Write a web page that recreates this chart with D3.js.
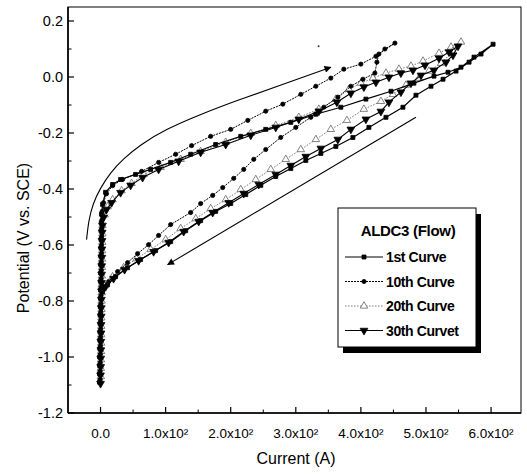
<!DOCTYPE html>
<html>
<head>
<meta charset="utf-8">
<script src="https://cdn.jsdelivr.net/npm/d3@7"></script>
<style>
  body { margin: 0; background: #fff; }
  text { font-family: "Liberation Sans", Arial, sans-serif; fill: #000; }
</style>
</head>
<body>
<div id="chart"></div>
<script>
// tick values / labels
const xTicks = [0, 100, 200, 300, 400, 500, 600]
const xTickLabels = ["0.0", "1.0x10²", "2.0x10²", "3.0x10²", "4.0x10²", "5.0x10²", "6.0x10²"]
const xMinor = [50, 150, 250, 350, 450, 550]
const yTicks = [-1.2, -1.0, -0.8, -0.6, -0.4, -0.2, 0.0, 0.2]
const yTickLabels = ["-1.2", "-1.0", "-0.8", "-0.6", "-0.4", "-0.2", "0.0", "0.2"]
const yMinor = [-1.1, -0.9, -0.7, -0.5, -0.3, -0.1, 0.1]

const seriesNames = ["1st Curve", "10th Curve", "20th Curve", "30th Curvet"]

// [current, potential]
const curve1 = [[-1.5,-1.09],[-1.5,-1.06],[-1.3,-1.03],[-1.2,-1.00],[-1,-0.97],[-1,-0.94],[-0.8,-0.91],
  [-0.6,-0.88],[-0.5,-0.85],[-0.3,-0.82],[0,-0.79],[0,-0.76],[0.2,-0.73],[0.3,-0.70],[0.4,-0.67],[0.5,-0.64],
  [0.6,-0.61],[0.8,-0.58],[1,-0.55],[1.2,-0.52],[1.5,-0.49],
  [3.1,-0.455],[7.7,-0.412],[18.5,-0.384],[30.8,-0.366],[53.8,-0.348],[76.9,-0.330],[107.7,-0.305],
  [138.5,-0.276],[176.9,-0.241],[215.4,-0.212],[253.8,-0.187],[292.3,-0.162],[330.8,-0.133],[369.2,-0.108],
  [407.7,-0.079],[446.2,-0.051],[481.5,-0.022],[512.3,0.003],[533.8,0.017],[553.8,0.035],[573.8,0.071],[603.1,0.117],
  [584.6,0.082],[566.2,0.053],[546.2,0.021],[526.2,-0.008],[507.7,-0.033],[484.6,-0.065],[464.6,-0.108],
  [438.5,-0.144],[412.3,-0.180],[387.7,-0.216],[361.5,-0.248],[338.5,-0.273],[315.4,-0.298],[292.3,-0.327],
  [269.2,-0.355],[246.2,-0.387],[223.1,-0.420],[200.0,-0.452],[176.9,-0.480],[153.8,-0.513],[130.8,-0.549],
  [107.7,-0.588],[84.6,-0.620],[61.5,-0.652],[41.5,-0.681],[23.1,-0.713],[10.8,-0.742],[3.1,-0.767]]

const curve10 = [[-0.5,-1.08],[-0.5,-1.05],[-0.3,-1.02],[-0.2,-0.99],[0,-0.96],[0,-0.93],[0.2,-0.90],
  [0.3,-0.87],[0.5,-0.84],[0.6,-0.81],[0.8,-0.78],[1,-0.75],[1,-0.72],[1.2,-0.69],[1.3,-0.66],[1.5,-0.63],
  [1.6,-0.60],[1.8,-0.57],[2,-0.54],[2.2,-0.51],[2.5,-0.48],
  [4.6,-0.449],[9.2,-0.417],[18.5,-0.388],[33.8,-0.366],[63.1,-0.337],[89.2,-0.305],[115.4,-0.276],
  [140.0,-0.245],[169.2,-0.212],[200.0,-0.187],[226.2,-0.155],[253.8,-0.122],[280.0,-0.097],[307.7,-0.062],
  [330.8,-0.033],[353.8,-0.004],[373.8,0.028],[400.0,0.046],[423.1,0.074],[436.9,0.100],[452.3,0.121],
  [427.7,0.082],[424.6,0.053],[421.5,0.014],[403.1,-0.008],[384.6,-0.033],[364.6,-0.072],[343.1,-0.108],
  [323.1,-0.144],[300.0,-0.180],[276.9,-0.216],[253.8,-0.259],[235.4,-0.294],[220.0,-0.330],[204.6,-0.362],
  [187.7,-0.395],[172.3,-0.423],[153.8,-0.452],[138.5,-0.484],[107.7,-0.527],[89.2,-0.566],[73.8,-0.599],
  [56.9,-0.631],[41.5,-0.663],[26.2,-0.695],[12.3,-0.731],[3.1,-0.760]]

const curve20 = [[0.5,-1.07],[0.5,-1.04],[0.7,-1.01],[0.8,-0.98],[1,-0.95],[1,-0.92],[1.2,-0.89],
  [1.3,-0.86],[1.5,-0.83],[1.6,-0.80],[1.8,-0.77],[2,-0.74],[2,-0.71],[2.2,-0.68],[2.3,-0.65],[2.5,-0.62],
  [2.6,-0.59],[2.8,-0.56],[3,-0.53],[6.2,-0.492],
  [10.8,-0.463],[18.5,-0.438],[32.3,-0.406],[47.7,-0.380],[66.2,-0.348],[92.3,-0.323],[123.1,-0.294],
  [153.8,-0.266],[192.3,-0.233],[230.8,-0.201],[269.2,-0.173],[304.6,-0.144],[335.4,-0.115],[361.5,-0.079],
  [381.5,-0.044],[400.0,-0.022],[418.5,-0.004],[438.5,0.014],[458.5,0.028],[476.9,0.039],[495.4,0.057],
  [520.0,0.085],[538.5,0.107],[553.8,0.125],
  [541.5,0.092],[523.1,0.049],[504.6,0.021],[489.2,-0.004],[469.2,-0.029],[449.2,-0.062],[430.8,-0.087],
  [404.6,-0.115],[378.5,-0.155],[353.8,-0.187],[330.8,-0.223],[307.7,-0.259],[284.6,-0.294],[261.5,-0.330],
  [238.5,-0.366],[215.4,-0.402],[192.3,-0.438],[169.2,-0.470],[146.2,-0.506],[123.1,-0.541],[100.0,-0.581],
  [76.9,-0.616],[55.4,-0.649],[35.4,-0.681],[18.5,-0.713],[6.2,-0.745]]

const curve30 = [[0,-1.095],[0,-1.065],[0.2,-1.035],[0.3,-1.005],[0.5,-0.975],[0.5,-0.945],[0.7,-0.915],
  [0.8,-0.885],[1,-0.855],[1.1,-0.825],[1.3,-0.795],[1.5,-0.765],[1.5,-0.735],[1.7,-0.705],[1.8,-0.675],
  [2,-0.645],[2.1,-0.615],[2.3,-0.585],[2.5,-0.555],[3,-0.53],
  [4.6,-0.502],[9.2,-0.473],[16.9,-0.449],[30.8,-0.413],[46.2,-0.387],[64.6,-0.359],[89.2,-0.330],
  [120.0,-0.301],[153.8,-0.269],[192.3,-0.241],[230.8,-0.208],[269.2,-0.180],[304.6,-0.151],[335.4,-0.122],
  [363.1,-0.090],[384.6,-0.058],[404.6,-0.036],[423.1,-0.019],[443.1,-0.001],[461.5,0.014],[480.0,0.024],
  [498.5,0.042],[520.0,0.067],[535.4,0.089],[549.2,0.110],
  [541.5,0.078],[530.8,0.053],[512.3,0.024],[492.3,0.006],[476.9,-0.022],[461.5,-0.054],[443.1,-0.090],
  [430.8,-0.123],[407.7,-0.151],[384.6,-0.187],[364.6,-0.223],[338.5,-0.255],[315.4,-0.284],[292.3,-0.316],
  [269.2,-0.348],[243.1,-0.384],[220.0,-0.416],[196.9,-0.449],[172.3,-0.484],[150.8,-0.516],[127.7,-0.552],
  [104.6,-0.591],[81.5,-0.624],[58.5,-0.656],[36.9,-0.688],[20.0,-0.720],[7.7,-0.749]]

// hand drawn arrows on the figure
const sweepUp = [[-21.5,-0.581],[-18.5,-0.516],[-12.3,-0.455],[0,-0.395],[15.4,-0.341],[33.8,-0.294],
  [61.5,-0.241],[100,-0.187],[153.8,-0.133],[215.4,-0.079],[276.9,-0.029],[353.8,0.035]]
const sweepDown = [[484.6,-0.144],[103.1,-0.670]]

const width = 527, height = 474
const margin = {top: 7, right: 6, bottom: 61, left: 68}

const svg = d3.select("#chart").append("svg")
  .attr("width", width).attr("height", height)

svg.append("defs").append("marker")
  .attr("id", "arrow").attr("viewBox", "0 0 10 10")
  .attr("refX", 9).attr("refY", 5)
  .attr("markerWidth", 9).attr("markerHeight", 7)
  .attr("markerUnits", "userSpaceOnUse")
  .attr("orient", "auto")
  .append("path").attr("d", "M0,0L10,5L0,10Z").attr("fill", "#000")

const x = d3.scaleLinear().domain([-50, 646]).range([margin.left, width - margin.right - 0])
const y = d3.scaleLinear().domain([-1.2, 0.25]).range([height - margin.bottom, margin.top])

const x0 = margin.left, x1 = width - margin.right, y0 = height - margin.bottom, y1 = margin.top

// frame
svg.append("rect")
  .attr("x", x0).attr("y", y1).attr("width", x1 - x0).attr("height", y0 - y1)
  .attr("fill", "none").attr("stroke", "#000").attr("stroke-width", 1)
svg.append("line").attr("x1", x0).attr("x2", x0).attr("y1", y1).attr("y2", y0)
  .attr("stroke", "#000").attr("stroke-width", 1.6)
svg.append("line").attr("x1", x0).attr("x2", x1).attr("y1", y0).attr("y2", y0)
  .attr("stroke", "#000").attr("stroke-width", 1.4)

// x axis (ticks inward)
const xAxis = svg.append("g").attr("transform", `translate(0,${y0})`)
xAxis.selectAll(".maj").data(xTicks).join("line")
  .attr("x1", d => x(d)).attr("x2", d => x(d)).attr("y1", 0).attr("y2", -6)
  .attr("stroke", "#000").attr("stroke-width", 1.2)
xAxis.selectAll(".min").data(xMinor).join("line")
  .attr("x1", d => x(d)).attr("x2", d => x(d)).attr("y1", 0).attr("y2", -3.5)
  .attr("stroke", "#000").attr("stroke-width", 1)
xAxis.selectAll("text").data(xTicks).join("text")
  .attr("x", d => x(d)).attr("y", 25)
  .attr("text-anchor", "middle").attr("font-size", 13.5)
  .text((d, i) => xTickLabels[i])

// y axis
const yAxis = svg.append("g").attr("transform", `translate(${x0},0)`)
yAxis.selectAll(".maj").data(yTicks).join("line")
  .attr("x1", 0).attr("x2", 6).attr("y1", d => y(d)).attr("y2", d => y(d))
  .attr("stroke", "#000").attr("stroke-width", 1.2)
yAxis.selectAll(".min").data(yMinor).join("line")
  .attr("x1", 0).attr("x2", 3.5).attr("y1", d => y(d)).attr("y2", d => y(d))
  .attr("stroke", "#000").attr("stroke-width", 1)
yAxis.selectAll("text").data(yTicks).join("text")
  .attr("x", -5).attr("y", d => y(d) + 5)
  .attr("text-anchor", "end").attr("font-size", 14.5)
  .text((d, i) => yTickLabels[i])

// axis titles
svg.append("text").attr("x", 296).attr("y", 464)
  .attr("text-anchor", "middle").attr("font-size", 16).text("Current (A)")
svg.append("text").attr("transform", "translate(29,238) rotate(-90)")
  .attr("text-anchor", "middle").attr("font-size", 16).text("Potential (V vs. SCE)")

// arrows
const line = d3.line().x(d => x(d[0])).y(d => y(d[1]))
svg.append("path").datum(sweepUp)
  .attr("d", line.curve(d3.curveBasis))
  .attr("fill", "none").attr("stroke", "#000").attr("stroke-width", 1.1)
  .attr("marker-end", "url(#arrow)")
svg.append("path").datum(sweepDown)
  .attr("d", d3.line().x(d => x(d[0])).y(d => y(d[1])))
  .attr("fill", "none").attr("stroke", "#000").attr("stroke-width", 1.1)
  .attr("marker-end", "url(#arrow)")
svg.append("circle").attr("cx", x(335)).attr("cy", y(0.11)).attr("r", 1).attr("fill", "#333")

// series styling
const styles = [
  {data: curve20, color: "#666", dash: "1.5,1.5", width: 0.9, symbol: d3.symbolTriangle, size: 24, fill: "#fff", rot: 0},
  {data: curve30, color: "#000", dash: null, width: 1.1, symbol: d3.symbolTriangle, size: 26, fill: "#000", rot: 180},
  {data: curve10, color: "#000", dash: "2,1", width: 1, symbol: d3.symbolCircle, size: 14, fill: "#000", rot: 0},
  {data: curve1, color: "#000", dash: null, width: 1.2, symbol: d3.symbolSquare, size: 16, fill: "#000", rot: 0}
]
const legendOrder = [3, 2, 0, 1]

const plotLine = d3.line().x(d => x(d[0])).y(d => y(d[1]))
styles.forEach(s => {
  svg.append("path").datum(s.data)
    .attr("d", plotLine)
    .attr("fill", "none").attr("stroke", s.color).attr("stroke-width", s.width)
    .attr("stroke-dasharray", s.dash)
  svg.append("g").selectAll("path").data(s.data).join("path")
    .attr("transform", d => `translate(${x(d[0])},${y(d[1])}) rotate(${s.rot})`)
    .attr("d", d3.symbol().type(s.symbol).size(s.size))
    .attr("fill", s.fill).attr("stroke", s.color).attr("stroke-width", 0.8)
})

// legend
const lg = svg.append("g").attr("transform", "translate(338,208)")
lg.append("rect").attr("x", 5).attr("y", 6).attr("width", 138).attr("height", 139).attr("fill", "#000")
lg.append("rect").attr("x", 0).attr("y", 0).attr("width", 138).attr("height", 139)
  .attr("fill", "#fff").attr("stroke", "#000").attr("stroke-width", 1)
lg.append("text").attr("x", 70).attr("y", 28)
  .attr("text-anchor", "middle").attr("font-size", 15).attr("font-weight", "bold")
  .attr("letter-spacing", -0.3).text("ALDC3 (Flow)")
seriesNames.forEach((name, i) => {
  const s = styles[legendOrder[i]]
  const ly = 49 + i * 24.5
  lg.append("line").attr("x1", 7).attr("x2", 45).attr("y1", ly).attr("y2", ly)
    .attr("stroke", s.color).attr("stroke-width", s.width).attr("stroke-dasharray", s.dash)
  lg.append("path").attr("transform", `translate(26,${ly}) rotate(${s.rot})`)
    .attr("d", d3.symbol().type(s.symbol).size(s.size))
    .attr("fill", s.fill).attr("stroke", s.color).attr("stroke-width", 0.8)
  lg.append("text").attr("x", 48).attr("y", ly + 5)
    .attr("font-size", 14).attr("font-weight", "bold").attr("letter-spacing", -0.4)
    .text(name)
})
</script>
</body>
</html>
